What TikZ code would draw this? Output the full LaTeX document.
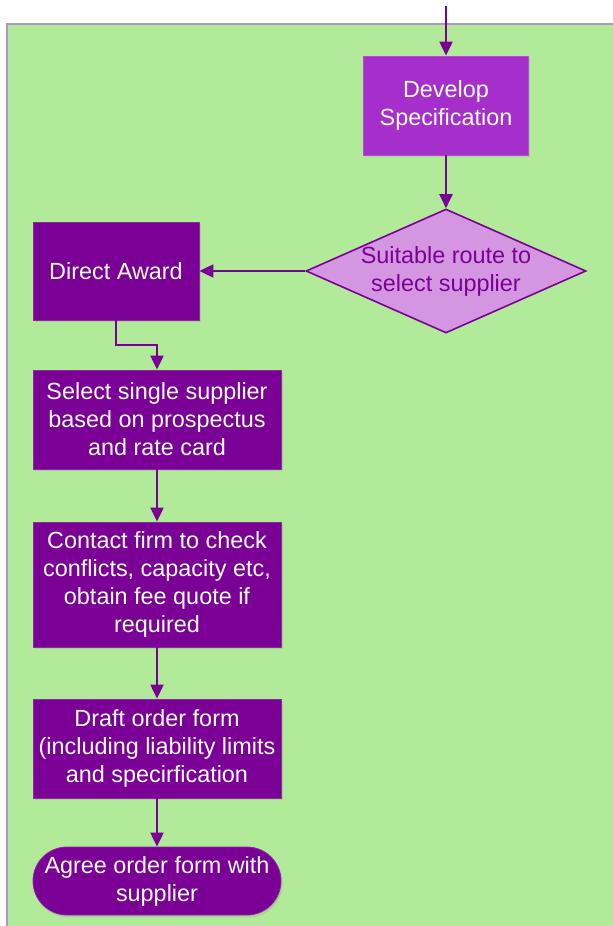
\documentclass[tikz,border=0pt]{standalone}
\usepackage{fontspec}
\setmainfont{Liberation Sans}
\usetikzlibrary{shapes.geometric,arrows.meta,shadows}

\definecolor{panelgreen}{RGB}{177,234,153}
\definecolor{paneledge}{RGB}{178,150,190}
\definecolor{brightpurple}{RGB}{166,47,203}
\definecolor{darkpurple}{RGB}{122,0,150}
\definecolor{palepurple}{RGB}{212,150,224}

\begin{document}
\begin{tikzpicture}[x=0.5pt,y=-0.5pt,
  txt/.style={align=center,inner sep=0pt,font=\fontsize{11.7}{14}\selectfont},
  box/.style={txt,rectangle,fill=darkpurple,draw=darkpurple!85!white,text=white,
    drop shadow={opacity=0.2,shadow xshift=0.8pt,shadow yshift=-1.2pt}},
  decision/.style={txt,diamond,aspect=2.26,fill=palepurple,draw=darkpurple,line width=0.8pt,
    text=darkpurple,minimum width=140pt,minimum height=62pt,inner sep=-6pt},
  flow/.style={draw=darkpurple,line width=1pt,-{Triangle[width=6.5pt,length=7pt]}}]
\useasboundingbox (0,0) rectangle (613,926);
\draw[fill=panelgreen,draw=paneledge,line width=0.8pt] (7,24) rectangle (640,960);

\coordinate (in) at (446,6);
\node[box,fill=brightpurple,draw=brightpurple!85!white,minimum width=82.5pt,minimum height=49.5pt]
  (spec) at (446,105.5) {Develop\\Specification};
\node[decision] (route) at (446,271) {Suitable route to\\select supplier};
\node[box,minimum width=83pt,minimum height=49pt] (direct) at (116,271) {Direct Award};
\node[box,minimum width=124pt,minimum height=49.5pt] (select) at (157,419.5)
  {Select single supplier\\based on prospectus\\and rate card};
\node[box,minimum width=124pt,minimum height=62.5pt] (contact) at (157,584.5)
  {Contact firm to check\\conflicts, capacity etc,\\obtain fee quote if\\required};
\node[box,minimum width=124pt,minimum height=49.5pt] (draft) at (157,748.5)
  {Draft order form\\(including liability limits\\and specirfication};
\node[box,rounded corners=17pt,minimum width=124pt,minimum height=34pt] (agree) at (157,881)
  {Agree order form with\\supplier};

\draw[flow] (in) -- (spec.north);
\draw[flow] (spec.south) -- (route.north);
\draw[flow] (route.west) -- (direct.east);
\draw[flow] (direct.south) -- ++(0,25) -| (select.north);
\draw[flow] (select) -- (contact);
\draw[flow] (contact) -- (draft);
\draw[flow] (draft) -- (agree);
\end{tikzpicture}
\end{document}
